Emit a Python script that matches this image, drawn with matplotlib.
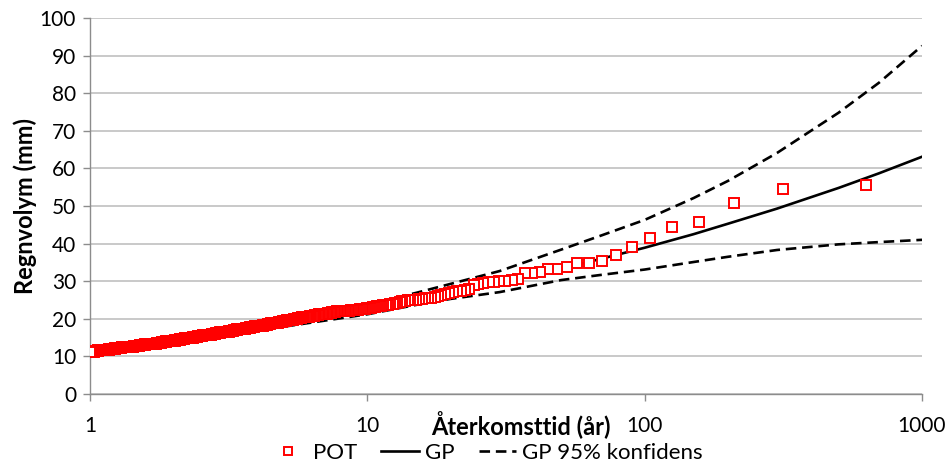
import numpy as np
import matplotlib
matplotlib.use("Agg")
import matplotlib.pyplot as plt

# POT-serie: de största regnvolymerna (mm), i fallande ordning
pot_topp = [55.6, 54.5, 50.8, 45.7, 44.5, 41.6, 39.2, 36.9, 35.3, 34.9,
            34.9, 33.8, 33.3, 33.3, 32.4, 32.1, 32.1, 30.5, 30.3, 30.1,
            30.0, 29.9, 29.7, 29.5, 29.2, 28.9, 27.8, 27.6, 27.4, 27.3,
            27.1, 26.9, 26.6, 26.3, 26.1, 25.8, 25.6, 25.5, 25.4, 25.3,
            25.2, 25.1, 25.0, 24.9, 24.9, 24.8, 24.7, 24.6, 24.2, 24.1,
            24.0, 23.9, 23.8, 23.7, 23.6, 23.5, 23.4, 23.3, 23.2, 23.1,
            23.0, 22.9, 22.8]
# resten av serien som volym och antal händelser med den volymen
pot_volym = [22.6, 22.4, 22.2, 22.0, 21.8, 21.6, 21.4, 21.2, 21.0, 20.8,
             20.6, 20.4, 20.2, 20.0, 19.8, 19.6, 19.4, 19.2, 19.0, 18.8,
             18.6, 18.4, 18.2, 18.0, 17.8, 17.6, 17.4, 17.2, 17.0, 16.8,
             16.6, 16.4, 16.2, 16.0, 15.8, 15.6, 15.4, 15.2, 15.0, 14.8,
             14.6, 14.4, 14.2, 14.0, 13.8, 13.6, 13.4, 13.2, 13.0, 12.8,
             12.6, 12.4, 12.2, 12.0, 11.8, 11.6, 11.4, 11.2]
pot_antal = [4, 5, 4, 5, 3, 3, 4, 3, 3, 4,
             4, 3, 4, 4, 3, 4, 4, 4, 5, 4,
             4, 5, 5, 6, 6, 6, 6, 7, 6, 7,
             8, 7, 8, 8, 9, 9, 10, 10, 10, 10,
             11, 12, 12, 12, 13, 15, 17, 18, 20, 21,
             22, 24, 25, 26, 27, 27, 20, 20]

# GP-anpassning med 95 % konfidensintervall
gp_T = [1, 1.5, 2, 3, 5, 7, 10, 15, 20, 30, 50, 70, 100, 150, 200, 300, 500, 700, 1000]
gp = [11.3, 13.0, 14.2, 16.1, 18.6, 20.5, 22.5, 25.0, 26.8, 29.6,
      33.3, 36.0, 38.9, 42.5, 45.3, 49.3, 54.8, 58.7, 63.1]
gp_ovre = [11.4, 13.2, 14.5, 16.6, 19.6, 21.7, 23.8, 26.9, 29.3, 32.7,
           38.4, 42.2, 46.3, 52.1, 56.7, 64.1, 74.8, 82.8, 92.6]
gp_undre = [11.2, 12.8, 14.0, 15.7, 17.9, 19.5, 21.2, 23.7, 25.3, 27.1,
            30.3, 31.7, 33.1, 35.1, 36.5, 38.3, 39.8, 40.4, 41.0]

pot = np.concatenate([pot_topp, np.repeat(pot_volym, pot_antal)])
rang = np.arange(1, len(pot) + 1)
aterkomst = len(pot) / rang

plt.rcParams['font.family'] = ['Lato', 'DejaVu Sans']

fig = plt.figure(figsize=(9.47, 4.68), dpi=100)
ax = fig.add_axes([90 / 947, 1 - 394 / 468, 832 / 947, 376 / 468])

ax.plot(gp_T, gp, color='black', lw=1.9, label='GP', zorder=3)
ax.plot(gp_T, gp_ovre, color='black', lw=1.9, ls=(0, (4, 2.2)),
        label='GP 95% konfidens', zorder=3)
ax.plot(gp_T, gp_undre, color='black', lw=1.9, ls=(0, (4, 2.2)), zorder=3)
ax.plot(aterkomst, pot, ls='none', marker='s', ms=7, mfc='white',
        mec='#ff0000', mew=1.4, label='POT', zorder=4)

ax.set_xscale('log')
ax.set_xlim(1, 1000)
ax.set_ylim(0, 100)
ax.set_xticks([1, 10, 100, 1000])
ax.set_xticklabels(['1', '10', '100', '1000'])
ax.xaxis.set_minor_locator(matplotlib.ticker.NullLocator())
ax.set_yticks(range(0, 101, 10))

ax.grid(axis='y', color='#c0c0c0', lw=1.2)
ax.set_axisbelow(True)
for side in ['top', 'right']:
    ax.spines[side].set_visible(False)
for side in ['left', 'bottom']:
    ax.spines[side].set_color('#8c8c8c')
    ax.spines[side].set_linewidth(1.0)
ax.tick_params(axis='both', direction='out', length=5, width=1.0,
               color='#8c8c8c', labelsize=15, labelcolor='black')
ax.tick_params(axis='x', pad=11)
ax.tick_params(axis='y', pad=5)

ax.set_ylabel('Regnvolym (mm)', fontsize=17, fontweight='bold')
ax.yaxis.label.set_va('center')
ax.yaxis.set_label_coords(-0.078, 0.5)
ax.set_xlabel('Återkomsttid (år)', fontsize=17, fontweight='bold')
ax.xaxis.label.set_va('center')
ax.xaxis.set_label_coords(0.518, -0.082)

handles, labels = ax.get_legend_handles_labels()
order = [2, 0, 1]
fig.legend([handles[i] for i in order], [labels[i] for i in order],
           loc='center', bbox_to_anchor=(486 / 947, 1 - 453 / 468),
           ncol=3, frameon=False, fontsize=16, handlelength=1.7,
           columnspacing=1.1, handletextpad=0.25, markerscale=0.85)

fig.savefig('out.png', dpi=100)
